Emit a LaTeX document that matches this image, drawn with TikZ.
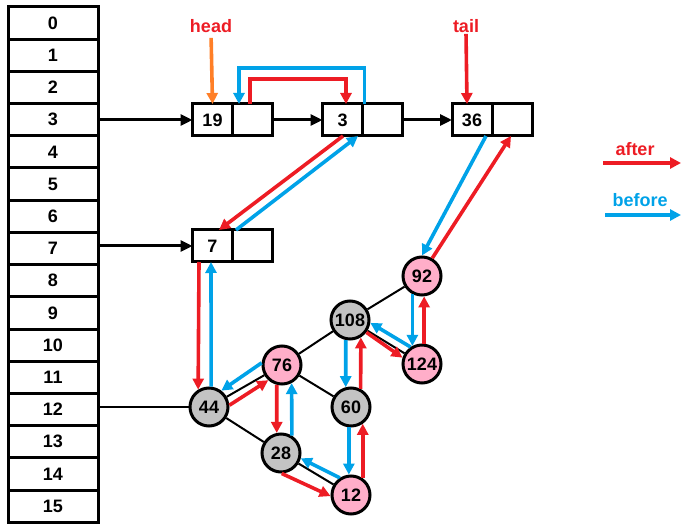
\documentclass[tikz,border=0pt]{standalone}
\usepackage{fontspec}
\setmainfont{Liberation Sans}
\usetikzlibrary{arrows.meta, positioning}
\definecolor{arred}{HTML}{ED1C24}
\definecolor{arblue}{HTML}{00A2E8}
\definecolor{arorange}{HTML}{FF7F27}
\definecolor{ballpink}{HTML}{FFAEC9}
\definecolor{ballgray}{HTML}{C3C3C3}

\begin{document}
\begin{tikzpicture}[x=1pt, y=-1pt,
    every node/.style={inner sep=0pt, font=\fontsize{18}{21}\selectfont\bfseries},
    slot/.style={draw, line width=3pt, minimum width=90pt, minimum height=32.2pt, outer sep=0pt},
    cell/.style={draw, line width=3pt, minimum width=40pt, minimum height=32pt, outer sep=0pt},
    pinkball/.style={circle, draw, line width=3pt, fill=ballpink, minimum size=38pt},
    grayball/.style={circle, draw, line width=3pt, fill=ballgray, minimum size=38pt},
    link/.style={line width=3pt, -{Triangle[length=12pt,width=11pt]}},
    treeline/.style={line width=2pt},
    aftarr/.style={draw=arred, line width=3.6pt, -{Triangle[length=11pt,width=11pt]}},
    befarr/.style={draw=arblue, line width=3.6pt, -{Triangle[length=11pt,width=11pt]}}]
    \useasboundingbox (0,0) rectangle (687,526);

    % 1. 左侧的桶数组
    \foreach \i in {0,...,15}
        \node[slot] (t\i) at (53, 23.1+32.2*\i) {\i};

    % 2. 链表结点
    \node[cell] (v19) at (212.5,120) {19};
    \node[cell, right=0pt of v19] (p19) {};
    \node[cell] (v3) at (342.5,120) {3};
    \node[cell, right=0pt of v3] (p3) {};
    \node[cell] (v36) at (472,120) {36};
    \node[cell, right=0pt of v36] (p36) {};
    \node[cell] (v7) at (212.5,246) {7};
    \node[cell, right=0pt of v7] (p7) {};

    % 3. 红黑树结点
    \node[pinkball] (n92) at (422,276) {92};
    \node[grayball] (n108) at (350,320) {108};
    \node[pinkball] (n124) at (422,364) {124};
    \node[pinkball] (n76) at (282,365) {76};
    \node[grayball] (n44) at (209,407) {44};
    \node[grayball] (n60) at (351,407) {60};
    \node[grayball] (n28) at (281,453) {28};
    \node[pinkball] (n12) at (351,495) {12};

    % 4. 黑色的指针与树边
    \draw[link] (t3.east |- v19.west) -- (v19.west);
    \draw[link] (p19.east) -- (v3.west);
    \draw[link] (p3.east) -- (v36.west);
    \draw[link] (t7.east |- v7.west) -- (v7.west);
    \draw[treeline] (t12.east |- n44.west) -- (n44);
    \draw[treeline] (n92) -- (n108);
    \draw[treeline] (n108) -- (n124);
    \draw[treeline] (n108) -- (n76);
    \draw[treeline] (n76) -- (n44);
    \draw[treeline] (n76) -- (n60);
    \draw[treeline] (n44) -- (n28);
    \draw[treeline] (n28) -- (n12);

    % 5. head 与 tail
    \node[text=arred] (head) at (211,26) {head};
    \node[text=arred] (tail) at (466,26) {tail};
    \draw[line width=3.6pt, draw=arorange, -{Triangle[length=11pt,width=11pt]}, shorten <=5pt] (head.south) -- (v19.north);
    \draw[aftarr, shorten <=1pt] (tail.south) -- ([xshift=-5pt]v36.north);

    % 6. after (红) 与 before (蓝) 指针
    \draw[befarr] ([xshift=2pt]p3.north west) -- ++(0,-36) -| ([xshift=6.5pt]p19.north west);
    \draw[aftarr] ([xshift=17.5pt]p19.north west) -- ++(0,-25) -| ([xshift=3.5pt]v3.north);
    \draw[aftarr] ([xshift=0.5pt]v3.south) -- ([xshift=6.5pt]v7.north);
    \draw[befarr] ([xshift=3.5pt]p7.north west) -- ([xshift=-4.5pt]p3.south west);
    \draw[befarr] ([xshift=14pt]v36.south) -- (n92.north);
    \draw[aftarr] (n92.60) -- ([xshift=-1pt]p36.south);
    \draw[aftarr] ([xshift=-13.5pt]v7.south) -- (n44.122);
    \draw[befarr] (n44.84) -- ([xshift=-1.5pt]v7.south);
    \draw[aftarr] (n44.5) -- (n76.228);
    \draw[befarr] (n76.174) -- (n44.53);
    \draw[aftarr] (n76.255) -- (n28.102);
    \draw[befarr] (n28.58) -- (n76.298);
    \draw[aftarr] (n28.272) -- (n12.183);
    \draw[befarr] (n12.123) -- (n28.345);
    \draw[befarr] (n60.264) -- (n12.96);
    \draw[aftarr] (n12.55) -- (n60.305);
    \draw[befarr] (n108.258) -- (n60.105);
    \draw[aftarr] (n60.62) -- (n108.302);
    \draw[aftarr] (n108.323) -- (n124.162);
    \draw[befarr] (n124.124) -- (n108.352);
    \draw[befarr] (n92.242) -- (n124.118);
    \draw[aftarr] (n124.84) -- (n92.276);

    % 7. 图例
    \node[text=arred] (aftlbl) at (635,149) {after};
    \node[text=arblue] (beflbl) at (640,200) {before};
    \coordinate (a1) at (603,163);
    \coordinate (a2) at (681,163);
    \coordinate (b1) at (605,215);
    \coordinate (b2) at (681,215);
    \draw[aftarr] (a1) -- (a2);
    \draw[befarr] (b1) -- (b2);

\end{tikzpicture}
\end{document}
